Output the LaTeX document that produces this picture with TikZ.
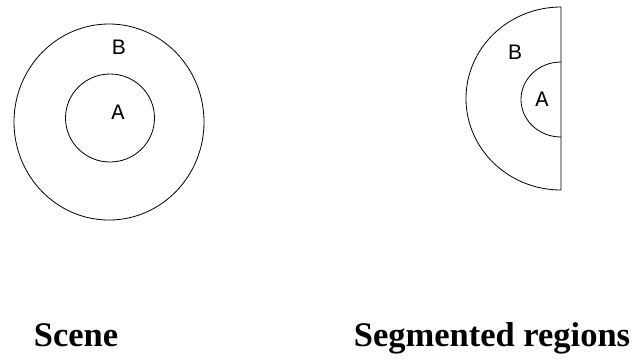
\documentclass[tikz,border=0pt]{standalone}
\usepackage{fontspec}
\setmainfont{Liberation Serif}
\newfontfamily\monofont{Liberation Mono}
\newfontfamily\sansfont{Liberation Sans}
\begin{document}
\begin{tikzpicture}[x=1pt,y=-1pt,
  edge/.style={draw=black,line width=0.8pt},
  labA/.style={font=\monofont\fontsize{22}{22}\selectfont,inner sep=0pt},
  labB/.style={font=\sansfont\fontsize{21}{21}\selectfont,inner sep=0pt},
  caption/.style={font=\fontsize{34.5}{34.5}\selectfont\bfseries,inner sep=0pt,anchor=base}]
\useasboundingbox (0,0) rectangle (643,360);
% Scene
\draw[edge] (109,122) ellipse [x radius=95,y radius=98];
\draw[edge] (110,118) ellipse [x radius=44.5,y radius=44];
\node[labA] (la) at (118,112) {A};
\node[labB] (lb) at (119,47) {B};
% Segmented regions
\draw[edge] (561,7) arc[start angle=270,end angle=90,x radius=95,y radius=91.5] -- cycle;
\draw[edge] (561,62) arc[start angle=270,end angle=90,x radius=40,y radius=37.5];
\node[labA] (ra) at (542,99) {A};
\node[labB] (rb) at (515,52) {B};
% captions
\node[caption] (cs) at (76,346) {Scene};
\node[caption] (cr) at (492,346) {Segmented regions};
\end{tikzpicture}
\end{document}
